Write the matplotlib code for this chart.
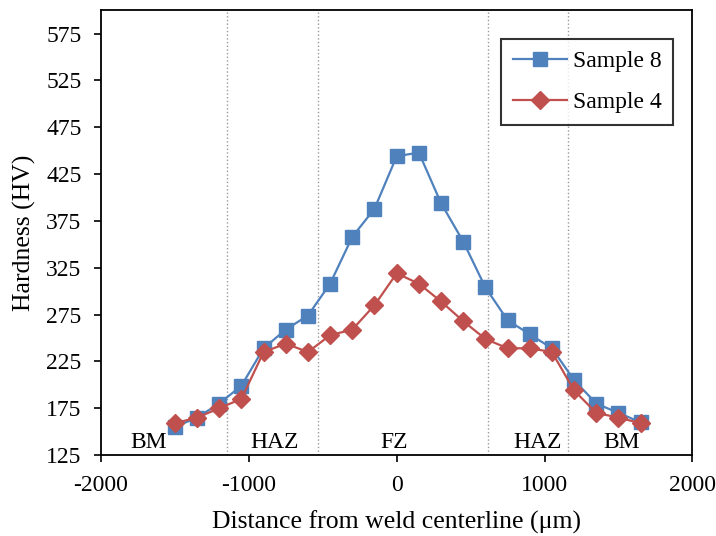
import matplotlib.pyplot as plt

plt.rcParams["font.family"] = ["Liberation Serif", "DejaVu Serif"]
plt.rcParams["axes.unicode_minus"] = False

# Data
distance = [-1500, -1350, -1200, -1050, -900, -750, -600, -450, -300, -150, 0,
            150, 300, 450, 600, 750, 900, 1050, 1200, 1350, 1500, 1650]
sample8 = [155, 165, 180, 199, 239, 259, 274, 308, 358, 388, 444,
           448, 394, 353, 304, 269, 254, 239, 205, 180, 170, 160]
sample4 = [159, 165, 175, 185, 235, 244, 235, 253, 259, 285, 319,
           308, 289, 268, 249, 239, 239, 235, 194, 170, 165, 159]

zone_bounds = [-1150, -530, 615, 1160]
zone_names = ["BM", "HAZ", "FZ", "HAZ", "BM"]
zone_pos = [-1680, -825, -20, 950, 1520]

fig = plt.figure(figsize=(7.16, 5.36), dpi=100)
ax = fig.add_axes([0.141, 0.151, 0.826, 0.83])

ax.plot(distance, sample8, color="#4F81BD", marker="s", markersize=9.5,
        linewidth=1.6, label="Sample 8")
ax.plot(distance, sample4, color="#C0504D", marker="D", markersize=9,
        linewidth=1.6, label="Sample 4")

for xb in zone_bounds:
    ax.axvline(xb, color="#999999", linestyle=":", linewidth=1.0, zorder=0)

for name, xp in zip(zone_names, zone_pos):
    ax.text(xp, 127, name, ha="center", va="bottom", fontsize=17)

ax.set_xlim(-2000, 2000)
ax.set_ylim(125, 600)
ax.set_xticks([-2000, -1000, 0, 1000, 2000])
ax.set_yticks(range(125, 600, 50))
ax.tick_params(direction="out", length=5, width=1.2, labelsize=17)
ax.tick_params(axis="x", pad=9)
ax.tick_params(axis="y", pad=9)
for s in ax.spines.values():
    s.set_linewidth(1.3)

ax.set_xlabel("Distance from weld centerline (\u03bcm)", fontsize=18.5)
ax.set_ylabel("Hardness (HV)", fontsize=18.5)
ax.xaxis.set_label_coords(0.5, -0.125)
ax.yaxis.set_label_coords(-0.11, 0.5)

leg = ax.legend(loc="upper right", bbox_to_anchor=(0.968, 0.935), fontsize=17,
                frameon=True, fancybox=False, edgecolor="black",
                borderaxespad=0, handlelength=2.3, handletextpad=0.25,
                borderpad=0.5, labelspacing=0.8)
leg.get_frame().set_linewidth(1.5)

fig.savefig("out.png", dpi=100)
